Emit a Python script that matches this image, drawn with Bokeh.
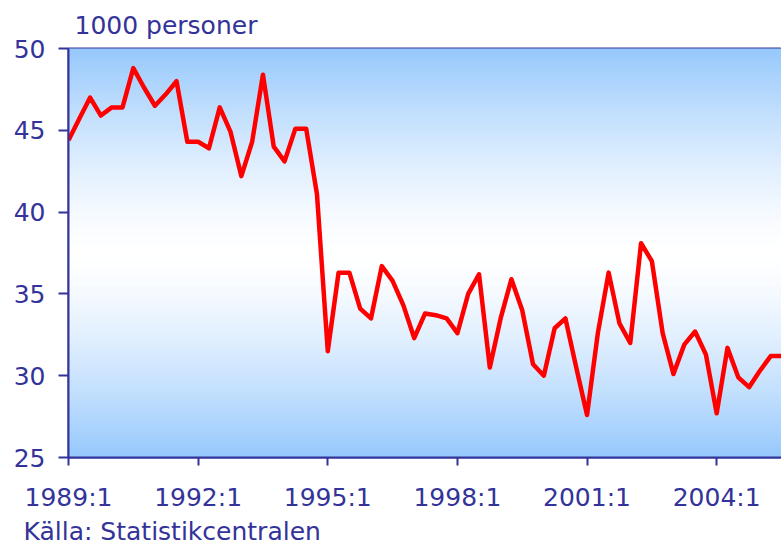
import numpy as np
from bokeh.plotting import figure
from bokeh.models import FixedTicker, Range1d, Title, ColumnDataSource
from bokeh.embed import file_html
from bokeh.resources import INLINE

# Quarterly data 1989:1 .. 2005:3 (1000 persons)
quarters = [f"{y}:{q}" for y in range(1989, 2006) for q in range(1, 5)][:67]
values = [
    44.4, 45.7, 47.0, 45.9,   # 1989
    46.4, 46.4, 48.8, 47.6,   # 1990
    46.5, 47.2, 48.0, 44.3,   # 1991
    44.3, 43.9, 46.4, 44.9,   # 1992
    42.2, 44.3, 48.4, 44.0,   # 1993
    43.1, 45.1, 45.1, 41.1,   # 1994
    31.5, 36.3, 36.3, 34.1,   # 1995
    33.5, 36.7, 35.8, 34.3,   # 1996
    32.3, 33.8, 33.7, 33.5,   # 1997
    32.6, 35.0, 36.2, 30.5,   # 1998
    33.5, 35.9, 34.0, 30.7,   # 1999
    30.0, 32.9, 33.5, 30.5,   # 2000
    27.6, 32.6, 36.3, 33.2,   # 2001
    32.0, 38.1, 37.0, 32.6,   # 2002
    30.1, 31.9, 32.7, 31.3,   # 2003
    27.7, 31.7, 29.9, 29.3,   # 2004
    30.3, 31.2, 31.2,         # 2005
]
tick_labels = ["1989:1", "1992:1", "1995:1", "1998:1", "2001:1", "2004:1"]
y_ticks = [25, 30, 35, 40, 45, 50]

x = list(range(len(values)))
src = ColumnDataSource(dict(x=x, y=values, q=quarters))

NAVY = "#333399"
FONT = "DejaVu Sans"
FS = "25px"

p = figure(width=781, height=546, output_backend="svg", toolbar_location=None,
           x_range=Range1d(0, len(values) - 1), y_range=Range1d(25, 50),
           min_border_left=68, min_border_right=0, min_border_top=47,
           min_border_bottom=89)
p.background_fill_color = "white"
p.border_fill_color = "white"
p.outline_line_color = NAVY
p.outline_line_width = 2
p.xgrid.visible = False
p.ygrid.visible = False

# vertical gradient background (blue -> white -> blue)
top_c = np.array([150, 200, 252])
white = np.array([255, 255, 255])
n = 100
edges = np.linspace(25, 50, n + 1)
step = edges[1] - edges[0]
mid = 37.5
colors = []
for i in range(n):
    yc = 0.5 * (edges[i] + edges[i + 1])
    if yc >= mid:
        t = (yc - mid) / (50 - mid)
    else:
        t = (mid - yc) / (mid - 25)
    t = min(max(t, 0), 1) ** 1.4
    c = white + (top_c - white) * t
    colors.append("#%02x%02x%02x" % tuple(int(round(v)) for v in c))
p.quad(left=-1, right=len(values) + 1, bottom=edges[:-1],
       top=edges[1:] + step * 0.6, fill_color=colors, line_color=None)

p.line("x", "y", source=src, line_color="#FF0000", line_width=4.5,
       line_join="round")

# axes
tick_pos = [quarters.index(t) for t in tick_labels]
p.xaxis.ticker = FixedTicker(ticks=tick_pos)
p.xaxis.major_label_overrides = {pos: lab for pos, lab in zip(tick_pos, tick_labels)}
p.yaxis.ticker = FixedTicker(ticks=y_ticks)
for ax in (p.xaxis, p.yaxis):
    ax.axis_line_color = NAVY
    ax.axis_line_width = 2
    ax.major_tick_line_color = NAVY
    ax.major_tick_line_width = 2
    ax.minor_tick_line_color = None
    ax.major_tick_in = 0
    ax.major_label_text_color = NAVY
    ax.major_label_text_font = FONT
    ax.major_label_text_font_size = FS
p.xaxis.major_tick_out = 8
p.yaxis.major_tick_out = 10
p.xaxis.major_label_standoff = 17
p.yaxis.major_label_standoff = 13

t1 = Title(text="1000 personer", align="left", offset=6, text_color=NAVY,
           text_font=FONT, text_font_size=FS, text_font_style="normal",
           standoff=17)
p.add_layout(t1, "above")
t2 = Title(text="Källa: Statistikcentralen", align="left", offset=-45,
           text_color=NAVY, text_font=FONT, text_font_size=FS,
           text_font_style="normal", standoff=0, text_line_height=1.0)
p.add_layout(t2, "below")

open("out.html", "w").write(file_html(p, INLINE))
